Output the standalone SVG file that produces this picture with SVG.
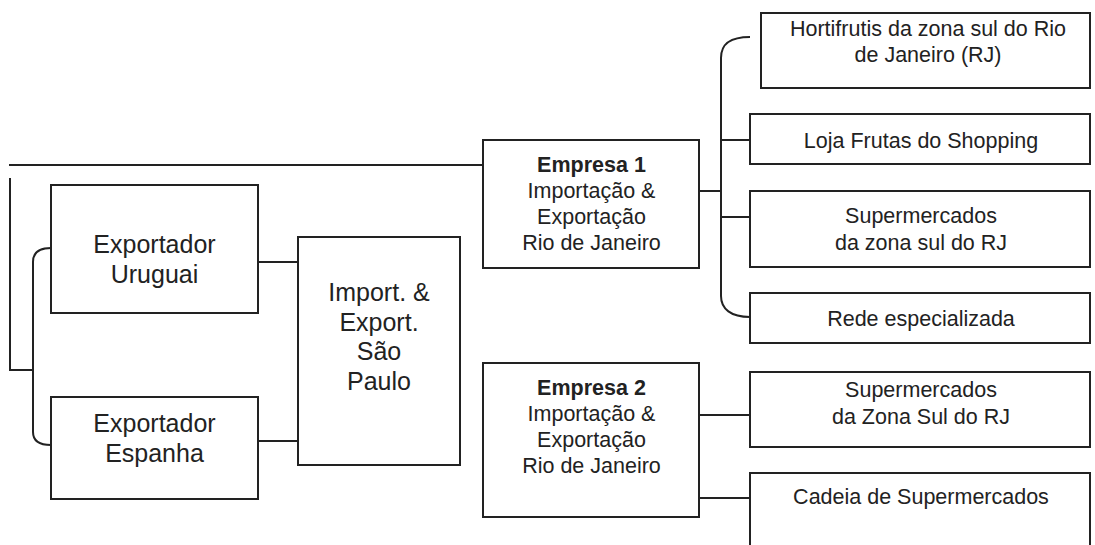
<svg xmlns="http://www.w3.org/2000/svg" width="1095" height="545" viewBox="0 0 1095 545">
<style>
.box{fill:#fff;stroke:#222;stroke-width:2}
.ln{fill:none;stroke:#222;stroke-width:2}
text{font-family:"Liberation Sans",Arial,sans-serif;fill:#222;text-anchor:middle}
.big{font-size:25px}
.sm{font-size:21.5px}
.b{font-weight:bold}
</style>
<rect width="1095" height="545" fill="#fff"/>
<g id="connectors">
<path class="ln" d="M9,165 H483"/>
<path class="ln" d="M10,178 V370 H33"/>
<path class="ln" d="M51,248 C40,248 33,252 33,262 V432 C33,441 40,445 51,445"/>
<path class="ln" d="M258,262 H298"/>
<path class="ln" d="M258,441 H298"/>
<path class="ln" d="M699,191 H721"/>
<path class="ln" d="M750,37 C731,37 721,43 721,58 V296 C721,309 731,317 750,317"/>
<path class="ln" d="M721,140 H750"/>
<path class="ln" d="M721,217 H750"/>
<path class="ln" d="M699,415 H750"/>
<path class="ln" d="M699,498 H750"/>
</g>
<g id="exp-uruguai">
<rect class="box" x="51" y="185" width="207" height="128"/>
<text class="big" x="154.5" y="253">Exportador</text>
<text class="big" x="154.5" y="283">Uruguai</text>
</g>
<g id="exp-espanha">
<rect class="box" x="51" y="397" width="207" height="102"/>
<text class="big" x="154.5" y="432">Exportador</text>
<text class="big" x="154.5" y="462">Espanha</text>
</g>
<g id="sao-paulo">
<rect class="box" x="298" y="237" width="162" height="228"/>
<text class="big" x="379" y="301">Import. &amp;</text>
<text class="big" x="379" y="330.5">Export.</text>
<text class="big" x="379" y="360">São</text>
<text class="big" x="379" y="389.5">Paulo</text>
</g>
<g id="empresa1">
<rect class="box" x="483" y="140" width="216" height="128"/>
<text class="sm b" x="591.5" y="172">Empresa 1</text>
<text class="sm" x="591.5" y="198">Importação &amp;</text>
<text class="sm" x="591.5" y="224">Exportação</text>
<text class="sm" x="591.5" y="250">Rio de Janeiro</text>
</g>
<g id="empresa2">
<rect class="box" x="483" y="363" width="216" height="154"/>
<text class="sm b" x="591.5" y="395">Empresa 2</text>
<text class="sm" x="591.5" y="421">Importação &amp;</text>
<text class="sm" x="591.5" y="447">Exportação</text>
<text class="sm" x="591.5" y="473">Rio de Janeiro</text>
</g>
<g id="hortifrutis">
<rect class="box" x="761" y="13" width="329" height="75"/>
<text class="sm" x="928" y="36">Hortifrutis da zona sul do Rio</text>
<text class="sm" x="928" y="62">de Janeiro (RJ)</text>
</g>
<g id="loja">
<rect class="box" x="750" y="114" width="340" height="50"/>
<text class="sm" x="921" y="148">Loja Frutas do Shopping</text>
</g>
<g id="super1">
<rect class="box" x="750" y="191" width="340" height="76"/>
<text class="sm" x="921" y="223">Supermercados</text>
<text class="sm" x="921" y="250">da zona sul do RJ</text>
</g>
<g id="rede">
<rect class="box" x="750" y="293" width="340" height="50"/>
<text class="sm" x="921" y="326">Rede especializada</text>
</g>
<g id="super2">
<rect class="box" x="750" y="372" width="340" height="75"/>
<text class="sm" x="921" y="397">Supermercados</text>
<text class="sm" x="921" y="424">da Zona Sul do RJ</text>
</g>
<g id="cadeia">
<rect class="box" x="750" y="473" width="340" height="90"/>
<text class="sm" x="921" y="504">Cadeia de Supermercados</text>
</g>
</svg>
